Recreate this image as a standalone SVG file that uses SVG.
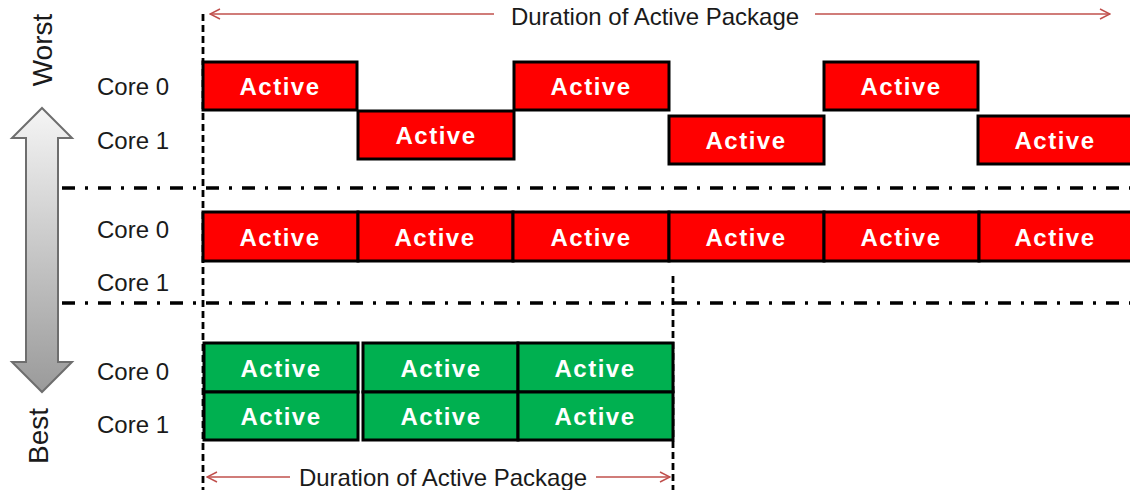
<svg xmlns="http://www.w3.org/2000/svg" width="1130" height="490" viewBox="0 0 1130 490">
<style>
.lbl{font-family:"Liberation Sans",Arial,sans-serif;font-size:24px;fill:#1a1a1a}
.side{font-family:"Liberation Sans",Arial,sans-serif;font-size:28px;fill:#1a1a1a;text-anchor:middle}
.act{font-family:"Liberation Sans",Arial,sans-serif;font-size:24px;font-weight:bold;fill:#fff;letter-spacing:1.5px;text-anchor:middle}
.red{fill:#ff0000;stroke:#000;stroke-width:3}
.grn{fill:#00b050;stroke:#000;stroke-width:3}
.dashv{stroke:#000;stroke-width:2.8;stroke-dasharray:7 4;fill:none}
.dashdot{stroke:#000;stroke-width:3.5;stroke-dasharray:13 10 3 10;fill:none}
.dim{stroke:#c0504d;stroke-width:1.5;fill:none}
.dur{font-family:"Liberation Sans",Arial,sans-serif;font-size:24px;fill:#1a1a1a;text-anchor:middle}
</style>
<defs>
<linearGradient id="g" x1="0" y1="0" x2="0" y2="1">
<stop offset="0" stop-color="#f5f5f5"/>
<stop offset="1" stop-color="#9a9a9a"/>
</linearGradient>
<marker id="ah" viewBox="0 0 12 12" refX="11" refY="6" markerWidth="12" markerHeight="12" markerUnits="userSpaceOnUse" orient="auto-start-reverse">
<path d="M1,1 L11,6 L1,11" fill="none" stroke="#c0504d" stroke-width="1.5"/>
</marker>
</defs>
<rect width="1130" height="490" fill="#fff"/>

<g id="scale">
<polygon points="42,108 72,138 58,138 58,362 72,362 42,392 12,362 26,362 26,138 12,138" fill="url(#g)" stroke="#6e6e6e" stroke-width="2"/>
<text class="side" transform="translate(52,50) rotate(-90)">Worst</text>
<text class="side" transform="translate(48,436) rotate(-90)">Best</text>
</g>

<g id="labels">
<text class="lbl" x="97" y="95">Core 0</text>
<text class="lbl" x="97" y="149">Core 1</text>
<text class="lbl" x="97" y="238">Core 0</text>
<text class="lbl" x="97" y="291">Core 1</text>
<text class="lbl" x="97" y="380">Core 0</text>
<text class="lbl" x="97" y="433">Core 1</text>
</g>

<g id="connectors">
<line class="dashv" x1="203" y1="14" x2="203" y2="490"/>
<line class="dashv" x1="673" y1="276" x2="673" y2="490"/>
<line class="dashdot" x1="62" y1="188" x2="1130" y2="188"/>
<line class="dashdot" x1="62" y1="303" x2="1130" y2="303"/>
<line class="dim" x1="494" y1="14" x2="210" y2="14" marker-end="url(#ah)"/>
<line class="dim" x1="815" y1="14" x2="1110" y2="14" marker-end="url(#ah)"/>
<line class="dim" x1="290" y1="477" x2="207" y2="477" marker-end="url(#ah)"/>
<line class="dim" x1="596" y1="477" x2="670" y2="477" marker-end="url(#ah)"/>
<text class="dur" x="655" y="25">Duration of Active Package</text>
<text class="dur" x="443" y="486">Duration of Active Package</text>
</g>

<g id="worst">
<g id="w0a"><rect class="red" x="203" y="62" width="154" height="48"/><text class="act" x="280" y="95">Active</text></g>
<g id="w1a"><rect class="red" x="358" y="111" width="156" height="48"/><text class="act" x="436" y="144">Active</text></g>
<g id="w0b"><rect class="red" x="514" y="62" width="155" height="48"/><text class="act" x="591" y="95">Active</text></g>
<g id="w1b"><rect class="red" x="669" y="116" width="155" height="48"/><text class="act" x="746" y="149">Active</text></g>
<g id="w0c"><rect class="red" x="824" y="62" width="154" height="48"/><text class="act" x="901" y="95">Active</text></g>
<g id="w1c"><rect class="red" x="978" y="116" width="160" height="48"/><text class="act" x="1055" y="149">Active</text></g>
</g>

<g id="middle">
<g id="m1"><rect class="red" x="203" y="212" width="155" height="49"/><text class="act" x="280" y="246">Active</text></g>
<g id="m2"><rect class="red" x="358" y="212" width="155" height="49"/><text class="act" x="435" y="246">Active</text></g>
<g id="m3"><rect class="red" x="513" y="212" width="156" height="49"/><text class="act" x="591" y="246">Active</text></g>
<g id="m4"><rect class="red" x="669" y="212" width="155" height="49"/><text class="act" x="746" y="246">Active</text></g>
<g id="m5"><rect class="red" x="824" y="212" width="155" height="49"/><text class="act" x="901" y="246">Active</text></g>
<g id="m6"><rect class="red" x="979" y="212" width="160" height="49"/><text class="act" x="1055" y="246">Active</text></g>
</g>

<g id="best">
<g id="b1"><rect class="grn" x="204" y="343" width="154" height="49"/><text class="act" x="281" y="377">Active</text></g>
<g id="b2"><rect class="grn" x="363" y="343" width="155" height="49"/><text class="act" x="441" y="377">Active</text></g>
<g id="b3"><rect class="grn" x="518" y="343" width="155" height="49"/><text class="act" x="595" y="377">Active</text></g>
<g id="b4"><rect class="grn" x="204" y="392" width="154" height="48"/><text class="act" x="281" y="425">Active</text></g>
<g id="b5"><rect class="grn" x="363" y="392" width="155" height="48"/><text class="act" x="441" y="425">Active</text></g>
<g id="b6"><rect class="grn" x="518" y="392" width="155" height="48"/><text class="act" x="595" y="425">Active</text></g>
</g>
</svg>
